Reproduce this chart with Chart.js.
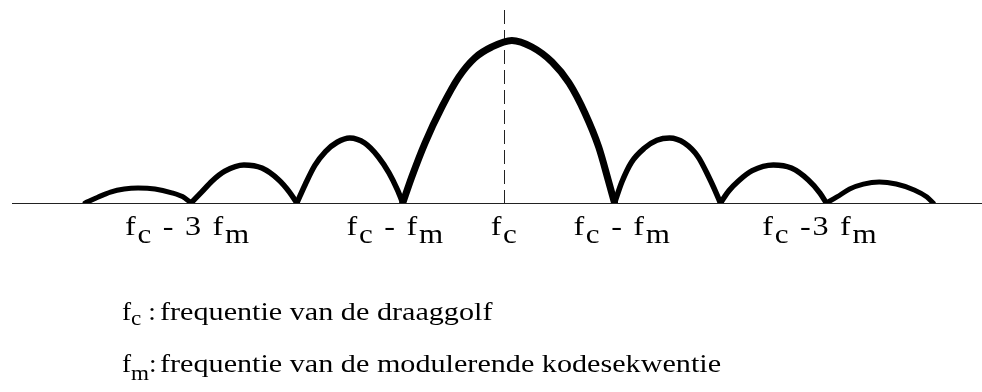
<!DOCTYPE html>
<html>
<head>
<meta charset="utf-8">
<script src="https://cdn.jsdelivr.net/npm/chart.js@4"></script>
<style>
body { margin: 0; background: #fff; }
</style>
</head>
<body>
<canvas id="spec" width="982" height="392"></canvas>
<script>
// spectrum lobes, x in units of fm around fc, y = amplitude (main peak = 100)
var lobeA_x = [-4, -3.88, -3.76, -3.63, -3.5, -3.34, -3.19, -3.06, -3];
var lobeA_y = [0, 3.5, 6.7, 8.6, 9.2, 8.6, 6.4, 3.2, 0];
var lobeB_x = [-3, -2.9, -2.8, -2.68, -2.5, -2.33, -2.17, -2.07, -2];
var lobeB_y = [0, 6.7, 13.5, 19.5, 23.3, 21.4, 14.1, 6.7, 0];
var lobeC_x = [-2, -1.92, -1.83, -1.73, -1.62, -1.5, -1.36, -1.23, -1.13, -1.05, -1];
var lobeC_y = [0, 11.5, 23, 31.5, 37.2, 39.8, 36.7, 28.2, 18.4, 8, 0];
var mainX = [-1, -0.915, -0.79, -0.63, -0.47, -0.32, -0.16, 0.03, 0.22, 0.41, 0.57, 0.72, 0.85, 0.94, 1];
var mainY = [0, 15.9, 36.7, 58.8, 77.2, 88.8, 95.5, 99.5, 95.5, 86.3, 73.5, 55.1, 34.3, 14.1, 0];
var lobeD_x = [1, 1.07, 1.16, 1.28, 1.4, 1.52, 1.66, 1.79, 1.89, 1.96, 2];
var lobeD_y = [0, 13, 25, 33.5, 38.4, 39.8, 36.7, 28.2, 15.9, 6.1, 0];
var lobeE_x = [2, 2.08, 2.17, 2.3, 2.5, 2.67, 2.83, 2.94, 3];
var lobeE_y = [0, 7.5, 13.5, 19.8, 23.3, 21.4, 14.1, 6.1, 0];
var lobeF_x = [3, 3.1, 3.22, 3.35, 3.5, 3.66, 3.83, 3.95, 4.01];
var lobeF_y = [0, 3.7, 8.6, 11.6, 12.9, 11.6, 8, 3.7, 0];

// tick labels, "_x" = subscript
var tickVals = [-3, -1, 0, 1, 3];
var tickLabels = ["f_c - 3 f_m", "f_c - f_m", "f_c", "f_c - f_m", "f_c -3 f_m"];
var noteSymbols = ["f_c :", "f_m:"];
var noteTexts = ["frequentie van de draaggolf", "frequentie van de modulerende kodesekwentie"];

var FAM = "'Liberation Serif', Times, serif";
var labelShift = [-3, -7, -4, 8, -6];

function pts(xs, ys) {
  var out = [];
  for (var i = 0; i < xs.length; i++) out.push({x: xs[i], y: ys[i]});
  return out;
}

function lobe(xs, ys, w) {
  return {
    data: pts(xs, ys),
    borderColor: '#000',
    borderWidth: w,
    pointRadius: 0,
    cubicInterpolationMode: 'monotone',
    borderCapStyle: 'round',
    borderJoinStyle: 'round',
    fill: false
  };
}

// split "f_c - f_m" into pieces
function parts(s) {
  var out = [];
  var cur = "";
  for (var i = 0; i < s.length; i++) {
    if (s[i] === "_") {
      if (cur) out.push({t: cur, sub: false});
      cur = "";
      out.push({t: s[i + 1], sub: true});
      i++;
    } else cur += s[i];
  }
  if (cur) out.push({t: cur, sub: false});
  return out;
}

function drawRich(ctx, s, x, y, size, subSize, drop, sx, align, spacing) {
  var p = parts(s);
  var mainFont = size + "px " + FAM;
  var subFont = subSize + "px " + FAM;
  ctx.save();
  ctx.letterSpacing = (spacing || 0) + "px";
  var total = 0;
  for (var i = 0; i < p.length; i++) {
    ctx.font = p[i].sub ? subFont : mainFont;
    p[i].w = ctx.measureText(p[i].t).width;
    total += p[i].w;
  }
  ctx.translate(x, y);
  ctx.scale(sx, 1);
  var cx = align === 'center' ? -total / 2 : 0;
  ctx.fillStyle = '#000';
  ctx.textBaseline = 'alphabetic';
  ctx.textAlign = 'left';
  for (var j = 0; j < p.length; j++) {
    ctx.font = p[j].sub ? subFont : mainFont;
    ctx.fillText(p[j].t, cx, p[j].sub ? drop : 0);
    cx += p[j].w;
  }
  ctx.restore();
}

var decor = {
  id: 'decor',
  beforeDatasetsDraw: function(chart) {
    var ctx = chart.ctx;
    var xs = chart.scales.x, ys = chart.scales.y;
    var y0 = ys.getPixelForValue(0);
    ctx.save();
    ctx.strokeStyle = '#222';
    ctx.lineWidth = 1;
    ctx.beginPath();
    ctx.moveTo(chart.chartArea.left, y0 + 0.5);
    ctx.lineTo(chart.chartArea.right, y0 + 0.5);
    ctx.stroke();
    // fc marker
    var xc = Math.round(xs.getPixelForValue(-0.04)) + 0.5;
    ctx.setLineDash([14, 6]);
    ctx.beginPath();
    ctx.moveTo(xc, 10);
    ctx.lineTo(xc, y0);
    ctx.stroke();
    ctx.restore();
  },
  afterDraw: function(chart) {
    var ctx = chart.ctx;
    var xs = chart.scales.x;
    for (var i = 0; i < tickVals.length; i++) {
      drawRich(ctx, tickLabels[i], xs.getPixelForValue(tickVals[i]) + labelShift[i], 235, 28, 27, 8, 1.15, 'center', 1.5);
    }
    drawRich(ctx, noteSymbols[0], 122, 320, 26, 22, 5, 1.05, 'left');
    drawRich(ctx, noteSymbols[1], 122, 372, 26, 22, 8, 1.05, 'left');
    drawRich(ctx, noteTexts[0], 160, 320, 26, 22, 0, 1.16, 'left');
    drawRich(ctx, noteTexts[1], 160, 372, 26, 22, 0, 1.16, 'left');
  }
};

var spec = new Chart(document.getElementById('spec').getContext('2d'), {
  type: 'line',
  data: {
    datasets: [
      lobe(lobeA_x, lobeA_y, 5),
      lobe(lobeB_x, lobeB_y, 5.5),
      lobe(lobeC_x, lobeC_y, 5.5),
      lobe(mainX, mainY, 7),
      lobe(lobeD_x, lobeD_y, 5.5),
      lobe(lobeE_x, lobeE_y, 5.5),
      lobe(lobeF_x, lobeF_y, 5)
    ]
  },
  options: {
    responsive: false,
    animation: false,
    layout: { padding: { left: 12, right: 0, top: 7, bottom: 189 } },
    plugins: { legend: { display: false }, tooltip: { enabled: false } },
    scales: {
      x: { type: 'linear', min: -4.69, max: 4.47, display: false },
      y: { min: 0, max: 120, display: false }
    }
  },
  plugins: [decor]
});
</script>
</body>
</html>
